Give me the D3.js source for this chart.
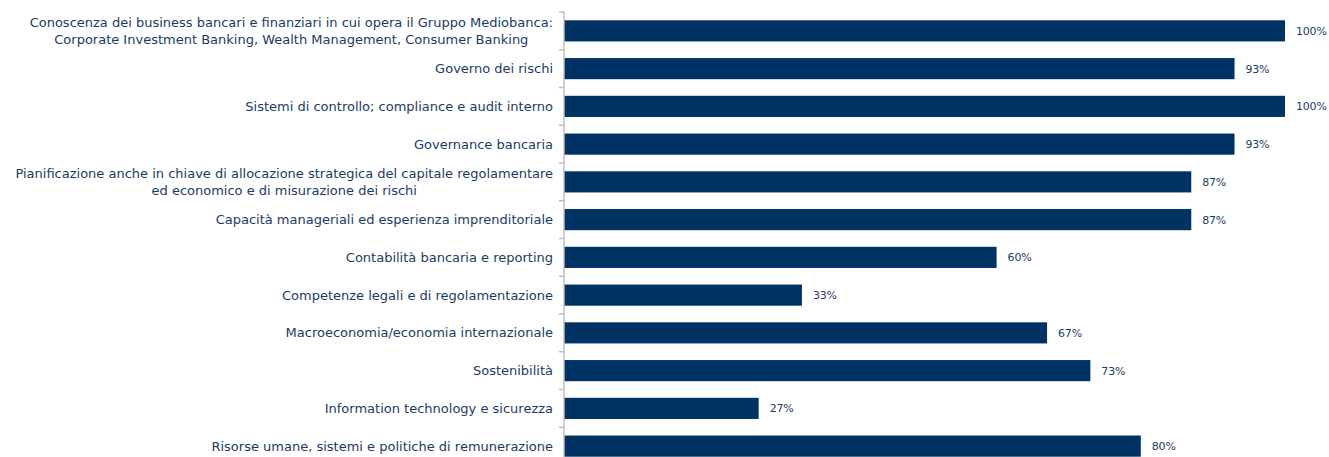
<!DOCTYPE html>
<html>
<head>
<meta charset="utf-8">
<script src="https://cdn.jsdelivr.net/npm/d3@7"></script>
<style>
    body { margin: 0; background: #fff; }
    text { font-family: "DejaVu Sans", sans-serif; fill: #1b3a66; }
</style>
</head>
<body>
<script>
const categories = [
    ["Conoscenza dei business bancari e finanziari in cui opera il Gruppo Mediobanca:", "Corporate Investment Banking, Wealth Management, Consumer Banking"],
    ["Governo dei rischi"],
    ["Sistemi di controllo; compliance e audit interno"],
    ["Governance bancaria"],
    ["Pianificazione anche in chiave di allocazione strategica del capitale regolamentare", "ed economico e di misurazione dei rischi"],
    ["Capacità manageriali ed esperienza imprenditoriale"],
    ["Contabilità bancaria e reporting"],
    ["Competenze legali e di regolamentazione"],
    ["Macroeconomia/economia internazionale"],
    ["Sostenibilità"],
    ["Information technology e sicurezza"],
    ["Risorse umane, sistemi e politiche di remunerazione"]
];
const values = [100, 93, 100, 93, 87, 87, 60, 33, 67, 73, 27, 80];

const w = 1329, h = 457;
const x0 = 564, x1 = 1285;
const plotTop = 12, step = 37.75;
const labelRight = 553;

const svg = d3.select("body")
    .append("svg")
    .attr("width", w)
    .attr("height", h);

const idx = d3.range(values.length);

const xScale = d3.scaleLinear()
    .domain([0, 100])
    .range([x0, x1]);

const yScale = d3.scaleBand()
    .domain(idx)
    .range([plotTop, plotTop + step * values.length])
    .paddingInner(0.44)
    .paddingOuter(0.22);

// bars
svg.selectAll("rect.bar")
    .data(idx)
    .enter()
    .append("rect")
    .attr("class", "bar")
    .attr("x", xScale(0))
    .attr("y", i => yScale(i))
    .attr("width", i => xScale(values[i]) - xScale(0))
    .attr("height", yScale.bandwidth())
    .attr("fill", "#003264");

// value labels
svg.selectAll("text.val")
    .data(idx)
    .enter()
    .append("text")
    .attr("class", "val")
    .attr("x", i => xScale(values[i]) + 11)
    .attr("y", i => yScale(i) + yScale.bandwidth() / 2)
    .attr("dy", "0.36em")
    .attr("font-size", 11)
    .attr("letter-spacing", -0.2)
    .text(i => values[i] + "%");

// axis line with ticks between categories
const axis = svg.append("g");
axis.append("line")
    .attr("x1", x0).attr("x2", x0)
    .attr("y1", plotTop).attr("y2", h)
    .attr("stroke", "#bfbfbf")
    .attr("stroke-width", 1.5);
axis.selectAll("line.tick")
    .data(d3.range(values.length + 1))
    .enter()
    .append("line")
    .attr("class", "tick")
    .attr("x1", x0 - 5).attr("x2", x0)
    .attr("y1", i => plotTop + i * step)
    .attr("y2", i => plotTop + i * step)
    .attr("stroke", "#bfbfbf")
    .attr("stroke-width", 1.5);

// category labels (multi-line ones are centred under the widest line)
const lh = 17;
svg.selectAll("g.cat")
    .data(idx)
    .enter()
    .append("g")
    .attr("class", "cat")
    .each(function (i) {
        const lines = categories[i];
        const g = d3.select(this);
        const cy = yScale(i) + yScale.bandwidth() / 2;
        const texts = lines.map((l, k) => g.append("text")
            .attr("font-size", 13)
            .attr("y", cy + (k - (lines.length - 1) / 2) * lh)
            .attr("dy", "0.35em")
            .text(l));
        const widths = texts.map(t => t.node().getComputedTextLength());
        const maxW = d3.max(widths);
        texts.forEach(t => t.attr("text-anchor", "middle").attr("x", labelRight - maxW / 2));
    });
</script>
</body>
</html>
